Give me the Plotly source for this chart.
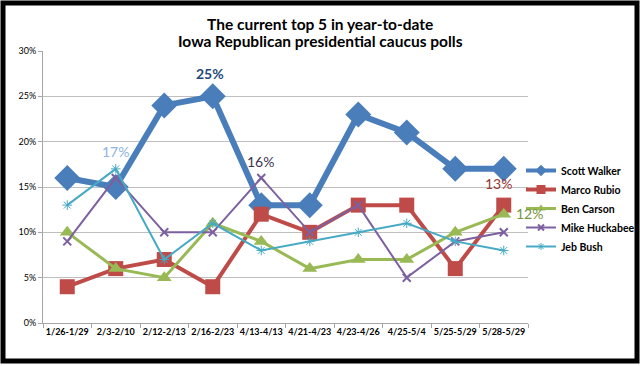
import plotly.graph_objects as go

categories = ["1/26-1/29", "2/3-2/10", "2/12-2/13", "2/16-2/23", "4/13-4/13",
              "4/21-4/23", "4/23-4/26", "4/25-5/4", "5/25-5/29", "5/28-5/29"]
walker = [16, 15, 24, 25, 13, 13, 23, 21, 17, 17]
rubio = [4, 6, 7, 4, 12, 10, 13, 13, 6, 13]
carson = [10, 6, 5, 11, 9, 6, 7, 7, 10, 12]
huckabee = [9, 16, 10, 10, 16, 10, 13, 5, 9, 10]
bush = [13, 17, 7, 11, 8, 9, 10, 11, 9, 8]
y_ticks = [0, 5, 10, 15, 20, 25, 30]
y_labels = [f"{v}%" for v in y_ticks]

W, H = 640, 366
L, R, T, B = 43, 112, 51, 43
PW, PH = W - L - R, H - T - B

fig = go.Figure()

def add(name, vals, color, lw, sym, size, mlw, lsize):
    fig.add_trace(go.Scatter(
        x=categories, y=vals, name=name, mode="lines+markers",
        line=dict(color=color, width=lw), showlegend=False,
        marker=dict(symbol=sym, size=size, color=color,
                    line=dict(color=color, width=mlw)),
    ))
    # legend-only entry with small marker
    fig.add_trace(go.Scatter(
        x=[categories[0]], y=[None], name=name, mode="lines+markers",
        line=dict(color=color, width=min(lw, 4)), showlegend=True,
        marker=dict(symbol=sym, size=lsize, color=color,
                    line=dict(color=color, width=mlw)),
    ))

add("Scott Walker", walker, "#4A7EBB", 6, "diamond", 20, 0, 9)
add("Marco Rubio", rubio, "#BE4B48", 4, "square", 15, 0, 9)
add("Ben Carson", carson, "#98B954", 3, "triangle-up", 13, 0, 8)
add("Mike Huckabee", huckabee, "#7D60A0", 2, "x-thin", 8, 2, 6)
add("Jeb Bush", bush, "#46AAC5", 2, "asterisk-open", 8, 1, 6)

ann_font = "Lato"
annotations = [
    dict(x=categories[3], y=walker[3], text="<b>25%</b>", yshift=23,
         xshift=-3, font=dict(color="#1F497D", size=14)),
    dict(x=categories[1], y=bush[1], text="17%", yshift=17,
         font=dict(color="#8DB3E2", size=14)),
    dict(x=categories[4], y=huckabee[4], text="16%", yshift=16,
         xshift=-1, font=dict(color="#403151", size=14)),
    dict(x=categories[9], y=rubio[9], text="13%", yshift=22,
         xshift=-5, font=dict(color="#953735", size=14)),
    dict(x=categories[9], y=carson[9], text="12%", xshift=26, yshift=1,
         font=dict(color="#77933C", size=14)),
]
for a in annotations:
    a.update(xref="x", yref="y", showarrow=False)
    a["font"]["family"] = ann_font

title_lines = ["The current top 5 in year-to-date",
               "Iowa Republican presidential caucus polls"]
for i, (txt, yc) in enumerate(zip(title_lines, [24, 41])):
    annotations.append(dict(
        text=f"<b>{txt}</b>", xref="paper", yref="paper",
        x=(W / 2 - L) / PW, y=1 + (T - yc) / PH, xanchor="center", yanchor="middle",
        showarrow=False, font=dict(family="Lato", size=15.5, color="black"),
    ))

fig.update_layout(
    width=W, height=H,
    margin=dict(l=L, r=R, t=T, b=B, autoexpand=False),
    paper_bgcolor="white", plot_bgcolor="white",
    showlegend=True,
    legend=dict(
        x=(521 - L) / PW, y=(323 - 156) / PH, xanchor="left", yanchor="top",
        font=dict(family="Lato", size=10.5, color="black", weight="bold"),
        bgcolor="rgba(0,0,0,0)", itemwidth=30, tracegroupgap=0,
    ),
    annotations=annotations,
    shapes=[dict(type="rect", xref="paper", yref="paper",
                 x0=-(L - 3) / PW, x1=1 + (R - 3) / PW,
                 y0=-(B - 5) / PH, y1=1 + (T - 3) / PH,
                 line=dict(color="black", width=5))],
)
fig.update_xaxes(
    type="category", range=[-0.5, 9.5], showgrid=False,
    showline=True, linecolor="#A6A6A6", linewidth=1,
    ticks="outside", tickson="boundaries", ticklen=4, tickcolor="#A6A6A6",
    tickfont=dict(family="Lato", size=9, color="black", weight="bold"),
    tickangle=0,
)
fig.update_yaxes(
    range=[0, 30], tickvals=y_ticks, ticktext=y_labels,
    showgrid=True, gridcolor="#BFBFBF", gridwidth=1,
    showline=True, linecolor="#A6A6A6", linewidth=1,
    ticks="outside", ticklen=4, tickcolor="#A6A6A6",
    tickfont=dict(family="Lato", size=9, color="black"),
    zeroline=False,
)

fig.write_html("out.html", config={"displayModeBar": False},
               post_script="document.body.style.margin='0';document.body.style.overflow='hidden';")
